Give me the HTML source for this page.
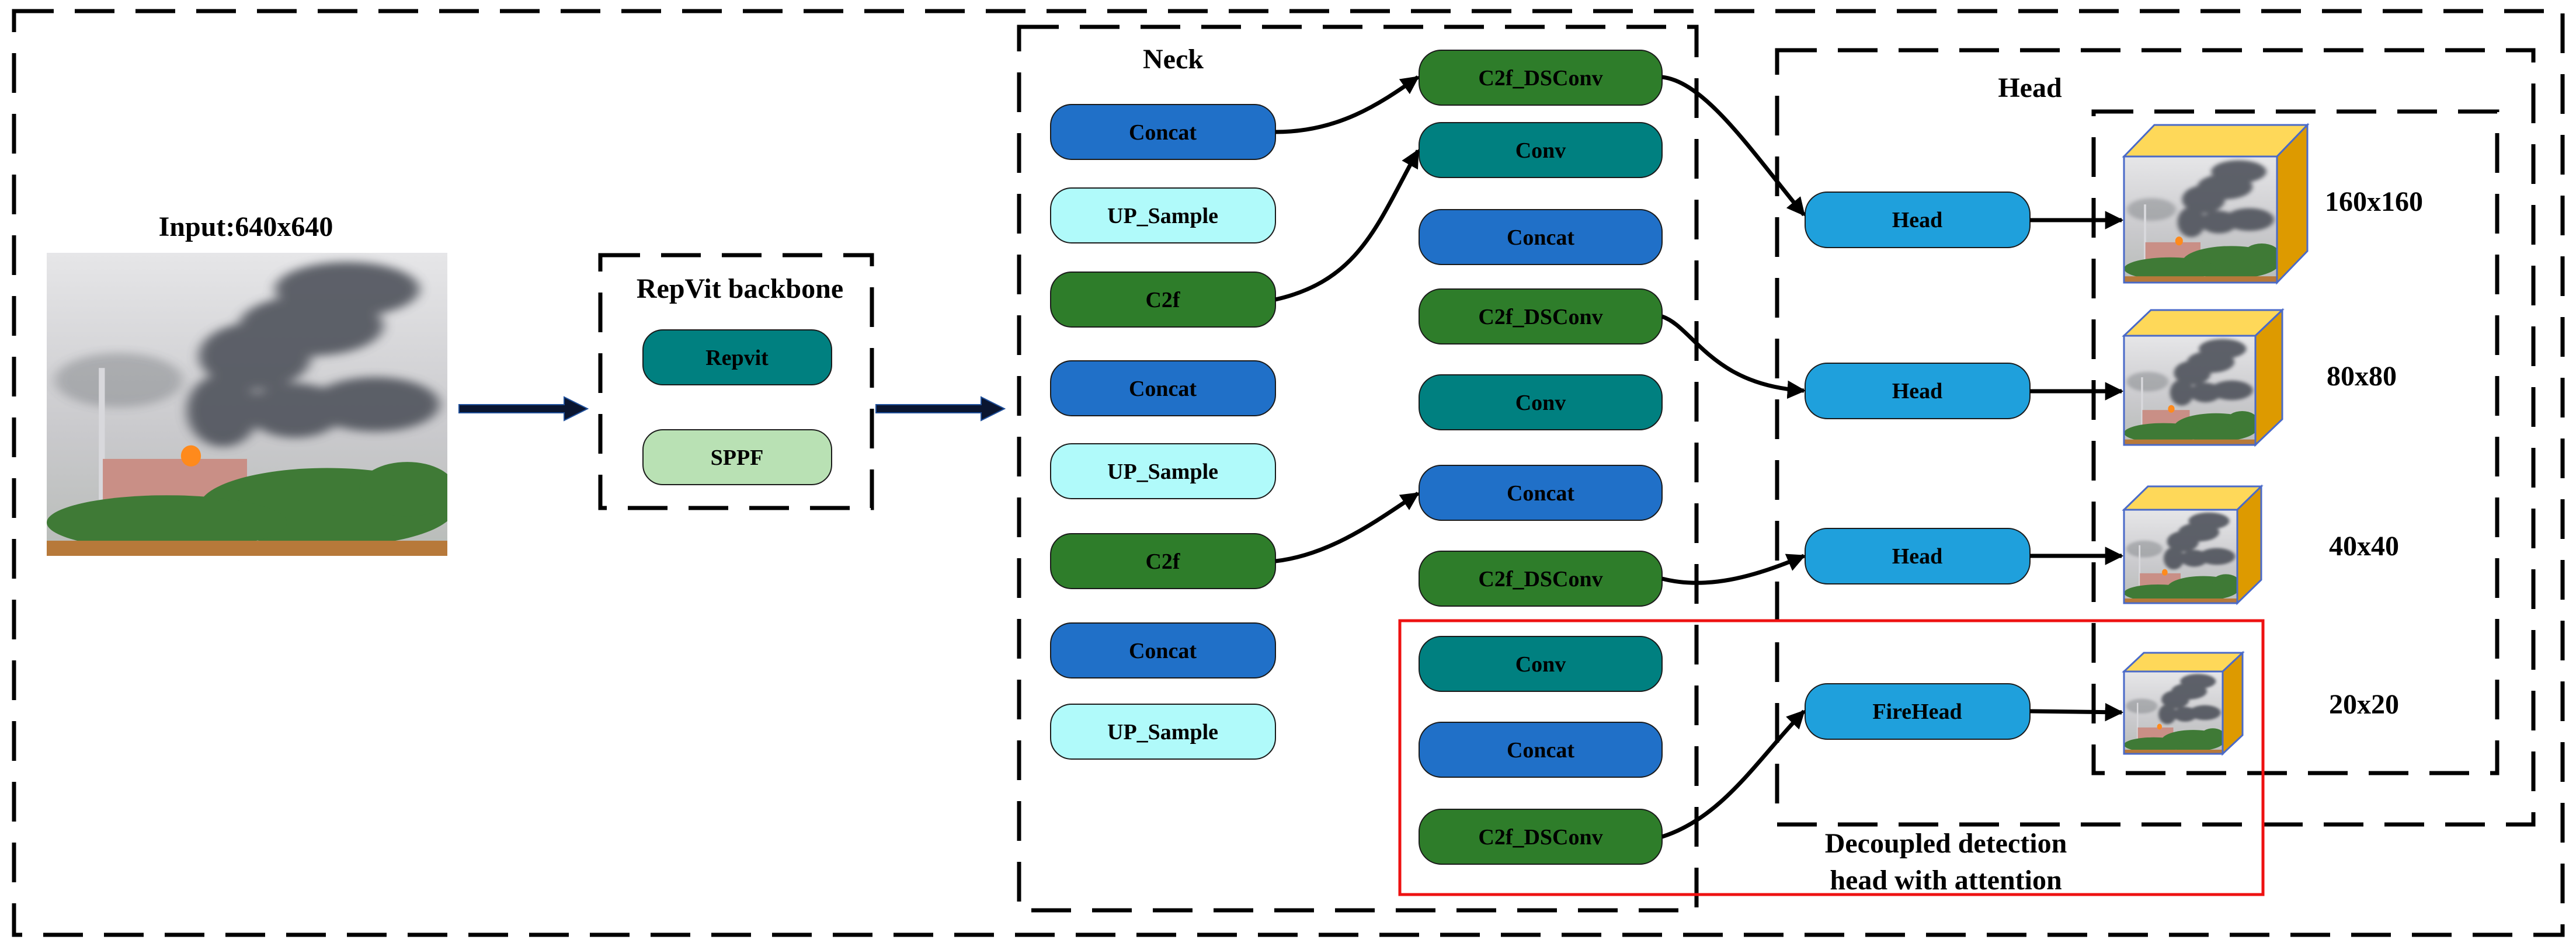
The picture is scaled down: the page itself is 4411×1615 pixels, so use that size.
<!DOCTYPE html>
<html><head><meta charset="utf-8"><style>
html,body{margin:0;padding:0;background:#fff;}
svg{display:block;}
text{font-family:"Liberation Serif",serif;font-weight:bold;}
</style></head><body>
<svg width="4411" height="1615" viewBox="0 0 4411 1615" xmlns="http://www.w3.org/2000/svg">
<defs>
<linearGradient id="sky" x1="0" y1="0" x2="0" y2="1">
<stop offset="0" stop-color="#e6e6e8"/><stop offset="0.6" stop-color="#c9c9cc"/><stop offset="1" stop-color="#b8bcb8"/>
</linearGradient>
<filter id="bl" x="-20%" y="-20%" width="140%" height="140%"><feGaussianBlur stdDeviation="1.5"/></filter>
<symbol id="photo" viewBox="0 0 100 100" preserveAspectRatio="none">
<g stroke="none">
<rect width="100" height="100" fill="url(#sky)"/>
<g filter="url(#bl)" fill="#50535b" opacity="0.9">
<ellipse cx="75" cy="12" rx="18" ry="9"/>
<ellipse cx="66" cy="24" rx="18" ry="10"/>
<ellipse cx="52" cy="34" rx="14" ry="11"/>
<ellipse cx="82" cy="50" rx="16" ry="9"/>
<ellipse cx="44" cy="52" rx="9" ry="12"/>
<ellipse cx="62" cy="52" rx="12" ry="9"/>
<ellipse cx="18" cy="42" rx="16" ry="9" opacity="0.35"/>
</g>
<rect x="13" y="38" width="1.5" height="47" fill="#d8d8dc"/>
<rect x="14" y="68" width="36" height="15" fill="#c98f86"/>
<ellipse cx="36" cy="67" rx="2.5" ry="3.5" fill="#ff8a1c"/>
<g fill="#3f7a36">
<ellipse cx="70" cy="84" rx="32" ry="13"/>
<ellipse cx="30" cy="89" rx="30" ry="9"/>
<ellipse cx="90" cy="78" rx="12" ry="9"/>
</g>
<rect x="0" y="95" width="100" height="5" fill="#b7793a"/>
</g>
</symbol>
<marker id="ah" viewBox="0 0 10 10" refX="9" refY="5" markerWidth="4.5" markerHeight="4.5" orient="auto" markerUnits="strokeWidth">
<path d="M0,0 L10,5 L0,10 z" fill="#000"/>
</marker>
</defs>

<g fill="none" stroke="#000" stroke-width="7" stroke-dasharray="68 36">
<rect x="24" y="19" width="4364" height="1582"/>
<rect x="1028" y="437" width="465" height="433"/>
<rect x="1745" y="46" width="1160" height="1513"/>
<rect x="3043" y="86" width="1295" height="1326"/>
<rect x="3585" y="191" width="691" height="1133"/>
</g>

<rect x="2397" y="1063" width="1478" height="469" fill="none" stroke="#ee1111" stroke-width="5"/>

<g font-size="48" text-anchor="middle" fill="#000">
<text x="421" y="404">Input:640x640</text>
<text x="1267" y="510">RepVit backbone</text>
<text x="2009" y="117">Neck</text>
<text x="3476" y="166">Head</text>
<text x="4065" y="361">160x160</text>
<text x="4044" y="660">80x80</text>
<text x="4048" y="951">40x40</text>
<text x="4048" y="1222">20x20</text>
<text x="3332" y="1460">Decoupled detection</text>
<text x="3332" y="1523">head with attention</text>
</g>

<use href="#photo" x="80" y="433" width="686" height="519"/>

<g fill="#0a1530" stroke="#1f4f9a" stroke-width="2">
<path d="M786,693 L966,693 L966,680 L1006,700 L966,720 L966,707 L786,707 z"/>
<path d="M1500,693 L1680,693 L1680,680 L1720,700 L1680,720 L1680,707 L1500,707 z"/>
</g>

<g stroke="#1a1a1a" stroke-width="2">
<rect x="1101" y="565" width="323" height="94" rx="34" fill="#008080"/>
<rect x="1101" y="736" width="323" height="94" rx="34" fill="#b9e1b4"/>

<rect x="1799" y="179" width="385" height="94" rx="36" fill="#2070c8"/>
<rect x="1799" y="322" width="385" height="94" rx="36" fill="#b0fafa"/>
<rect x="1799" y="466" width="385" height="94" rx="36" fill="#2e7d2a"/>
<rect x="1799" y="618" width="385" height="94" rx="36" fill="#2070c8"/>
<rect x="1799" y="760" width="385" height="94" rx="36" fill="#b0fafa"/>
<rect x="1799" y="914" width="385" height="94" rx="36" fill="#2e7d2a"/>
<rect x="1799" y="1067" width="385" height="94" rx="36" fill="#2070c8"/>
<rect x="1799" y="1206" width="385" height="94" rx="36" fill="#b0fafa"/>

<rect x="2430" y="86" width="416" height="94" rx="38" fill="#2e7d2a"/>
<rect x="2430" y="210" width="416" height="94" rx="38" fill="#008080"/>
<rect x="2430" y="359" width="416" height="94" rx="38" fill="#2070c8"/>
<rect x="2430" y="495" width="416" height="94" rx="38" fill="#2e7d2a"/>
<rect x="2430" y="642" width="416" height="94" rx="38" fill="#008080"/>
<rect x="2430" y="797" width="416" height="94" rx="38" fill="#2070c8"/>
<rect x="2430" y="944" width="416" height="94" rx="38" fill="#2e7d2a"/>
<rect x="2430" y="1090" width="416" height="94" rx="38" fill="#008080"/>
<rect x="2430" y="1237" width="416" height="94" rx="38" fill="#2070c8"/>
<rect x="2430" y="1386" width="416" height="94" rx="38" fill="#2e7d2a"/>

<rect x="3091" y="329" width="385" height="95" rx="38" fill="#1fa0dc"/>
<rect x="3091" y="622" width="385" height="95" rx="38" fill="#1fa0dc"/>
<rect x="3091" y="905" width="385" height="95" rx="38" fill="#1fa0dc"/>
<rect x="3091" y="1171" width="385" height="95" rx="38" fill="#1fa0dc"/>
</g>

<g font-size="38" text-anchor="middle" fill="#000">
<text x="1262" y="625">Repvit</text>
<text x="1262" y="796">SPPF</text>
<text x="1991" y="239">Concat</text>
<text x="1991" y="382">UP_Sample</text>
<text x="1991" y="526">C2f</text>
<text x="1991" y="678">Concat</text>
<text x="1991" y="820">UP_Sample</text>
<text x="1991" y="974">C2f</text>
<text x="1991" y="1127">Concat</text>
<text x="1991" y="1266">UP_Sample</text>
<text x="2638" y="146">C2f_DSConv</text>
<text x="2638" y="270">Conv</text>
<text x="2638" y="419">Concat</text>
<text x="2638" y="555">C2f_DSConv</text>
<text x="2638" y="702">Conv</text>
<text x="2638" y="857">Concat</text>
<text x="2638" y="1004">C2f_DSConv</text>
<text x="2638" y="1150">Conv</text>
<text x="2638" y="1297">Concat</text>
<text x="2638" y="1446">C2f_DSConv</text>
<text x="3283" y="389">Head</text>
<text x="3283" y="682">Head</text>
<text x="3283" y="965">Head</text>
<text x="3283" y="1231">FireHead</text>
</g>

<g fill="none" stroke="#000" stroke-width="7" marker-end="url(#ah)">
<path d="M2184,226 C2290,226 2360,180 2428,132"/>
<path d="M2184,513 C2330,480 2360,380 2428,258"/>
<path d="M2184,961 C2280,950 2360,890 2428,845"/>
<path d="M2846,132 C2920,140 3000,260 3089,368"/>
<path d="M2846,542 C2900,560 2930,660 3089,669"/>
<path d="M2846,991 C2920,1010 3000,990 3089,952"/>
<path d="M2846,1433 C2950,1400 3010,1300 3089,1218"/>
<path d="M3476,377 L3633,377"/>
<path d="M3476,670 L3633,670"/>
<path d="M3476,952 L3633,952"/>
<path d="M3476,1218 L3633,1220"/>
</g>

<use href="#photo" x="3637" y="268" width="262" height="216"/>
<use href="#photo" x="3637" y="575" width="225" height="187"/>
<use href="#photo" x="3637" y="873" width="194" height="160"/>
<use href="#photo" x="3637" y="1150" width="169" height="141"/>

<g stroke="#4a6ac8" stroke-width="3">
<polygon points="3637,268 3689,214 3951,214 3899,268" fill="#fed859"/>
<polygon points="3899,268 3951,214 3951,430 3899,484" fill="#dd9a00"/>
<rect x="3637" y="268" width="262" height="216" fill="none"/>

<polygon points="3637,575 3683,531 3908,531 3862,575" fill="#fed859"/>
<polygon points="3862,575 3908,531 3908,718 3862,762" fill="#dd9a00"/>
<rect x="3637" y="575" width="225" height="187" fill="none"/>

<polygon points="3637,873 3678,833 3872,833 3831,873" fill="#fed859"/>
<polygon points="3831,873 3872,833 3872,993 3831,1033" fill="#dd9a00"/>
<rect x="3637" y="873" width="194" height="160" fill="none"/>

<polygon points="3637,1150 3671,1118 3840,1118 3806,1150" fill="#fed859"/>
<polygon points="3806,1150 3840,1118 3840,1259 3806,1291" fill="#dd9a00"/>
<rect x="3637" y="1150" width="169" height="141" fill="none"/>
</g>
</svg>
</body></html>
